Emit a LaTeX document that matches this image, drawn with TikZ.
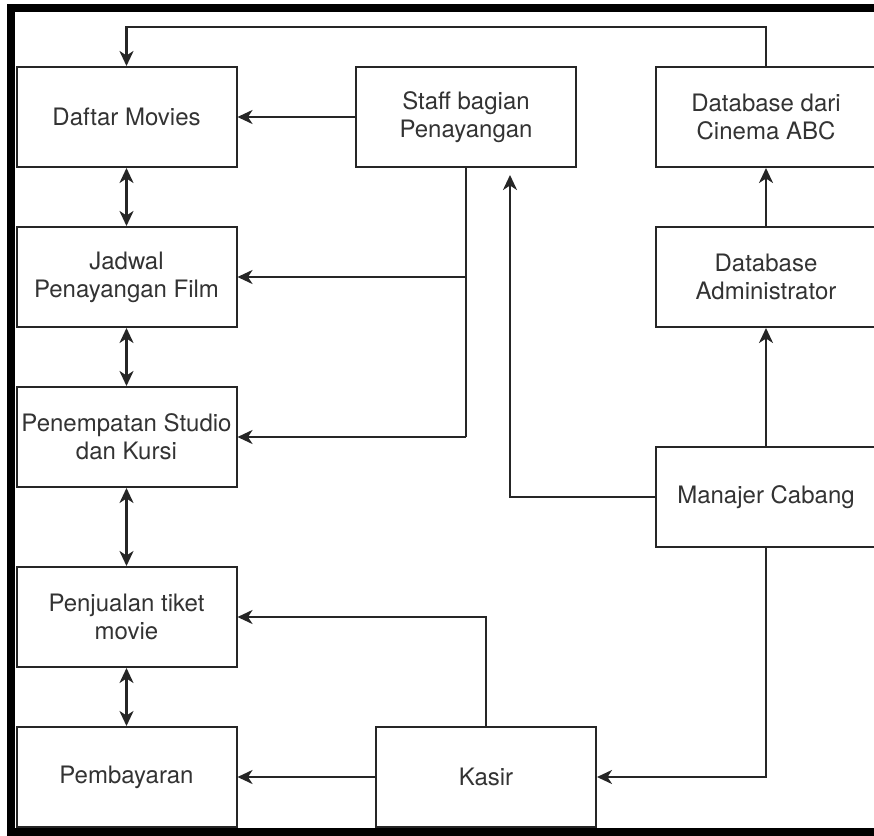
\documentclass[tikz,border=0pt]{standalone}
\usepackage{fontspec}
\setmainfont{TeX Gyre Heros}
\usetikzlibrary{arrows.meta}
\definecolor{txt}{HTML}{333333}
\begin{document}
\begin{tikzpicture}[x=1pt,y=-1pt,
  box/.style={draw=black!85, line width=2pt, rectangle,
    minimum width=220pt, minimum height=100pt, inner sep=2pt,
    align=center, text=txt,
    font=\fontsize{24pt}{28pt}\selectfont},
  tip/.tip={Stealth[length=15pt,width=14pt,inset=4.5pt]},
  link/.style={draw=black!85, line width=2.2pt, -tip},
  both/.style={link, tip-tip}]
\useasboundingbox (0,0) rectangle (874,835);
\clip (0,0) rectangle (874,835);
\fill[white] (0,0) rectangle (874,835);

% outer frame
\draw[line width=8pt] (11,8) -- (880,8) -- (880,832) -- (11,832) -- cycle;

% left column
\node[box] (dm) at (126.5,117) {Daftar Movies};
\node[box] (jp) at (126.5,277) {Jadwal\\Penayangan Film};
\node[box] (ps) at (126.5,437) {Penempatan Studio\\dan Kursi};
\node[box] (pt) at (126.5,617) {Penjualan tiket\\movie};
\node[box] (pb) at (126.5,777) {Pembayaran};

% middle and right
\node[box] (sb) at (466,117) {Staff bagian\\Penayangan};
\node[box] (db) at (766,117) {Database dari\\Cinema ABC};
\node[box] (da) at (766,277) {Database\\Administrator};
\node[box] (mc) at (766,497) {Manajer Cabang};
\node[box] (ks) at (486,777) {Kasir};

% helper points
\coordinate (top) at (766,27);
\coordinate (aim) at (510,175);
\coordinate (sj) at (sb.south |- jp.east);
\coordinate (sp) at (sb.south |- ps.east);

% connectors
\draw[link] (db.north) -- (top) -| (dm.north);
\draw[link] (sb.west) -- (dm.east);
\draw[draw=black!85, line width=2.2pt] (sb.south) -- (sp);
\draw[link] (sj) -- (jp.east);
\draw[link] (sp) -- (ps.east);
\draw[link] (mc.west) -| (aim);
\draw[link] (mc.north) -- (da.south);
\draw[link] (da.north) -- (db.south);
\draw[link] (mc.south) |- (ks.east);
\draw[link] (ks.north) |- (pt.east);
\draw[link] (ks.west) -- (pb.east);

\draw[both] (dm.south) -- (jp.north);
\draw[both] (jp.south) -- (ps.north);
\draw[both] (ps.south) -- (pt.north);
\draw[both] (pt.south) -- (pb.north);
\end{tikzpicture}
\end{document}
